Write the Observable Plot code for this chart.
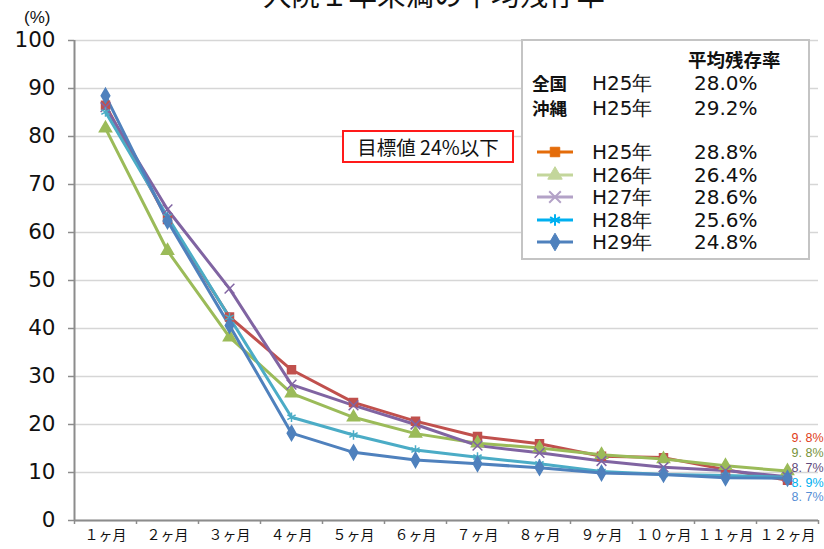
<!DOCTYPE html>
<html><head><meta charset="utf-8">
<script src="https://cdn.jsdelivr.net/npm/d3@7"></script>
<script src="https://cdn.jsdelivr.net/npm/@observablehq/plot@0.6"></script>
<style>
body{margin:0;background:#fff;}
#wrap{position:relative;width:824px;height:549px;overflow:hidden;font-family:"Noto Sans CJK JP",sans-serif;}
#wrap svg.chart{position:absolute;left:0;top:0;}
.title{position:absolute;left:0;width:868px;text-align:center;top:-20px;font-size:28.5px;line-height:28px;color:#111;white-space:nowrap;}
.unit{position:absolute;left:24px;top:8px;font-family:"Liberation Sans",sans-serif;font-size:17px;color:#111;}
.target{position:absolute;left:342px;top:130px;width:168px;height:29px;border:2px solid #ff1a1a;background:#fff;font-size:19.5px;line-height:29px;text-align:center;color:#111;white-space:nowrap;}
.legend{position:absolute;left:521px;top:39px;width:285px;height:217px;border:2px solid #c4c4c4;background:#fff;}
.legend .t{position:absolute;white-space:nowrap;color:#111;}
.legend .num{font-family:"DejaVu Sans",sans-serif;font-size:20px;line-height:22px;}
.legend .jp{font-size:17.5px;line-height:22px;font-weight:bold;}
</style></head><body><div id="wrap"></div>
<script>
const months = ["１ヶ月","２ヶ月","３ヶ月","４ヶ月","５ヶ月","６ヶ月","７ヶ月","８ヶ月","９ヶ月","１０ヶ月","１１ヶ月","１２ヶ月"];
const seriesNames = ["H25年","H26年","H27年","H28年","H29年"];
const h25 = [86.5, 62.7, 42.4, 31.4, 24.6, 20.7, 17.5, 16.0, 13.4, 13.1, 10.6, 8.4];
const h26 = [81.7, 56.2, 38.2, 26.5, 21.5, 18.1, 16.1, 15.1, 13.7, 12.8, 11.4, 10.3];
const h27 = [86.1, 64.8, 48.3, 28.3, 24.0, 20.0, 15.6, 14.1, 12.4, 11.1, 10.4, 9.1];
const h28 = [85.1, 63.3, 42.3, 21.5, 17.8, 14.7, 13.2, 11.8, 10.2, 9.6, 9.4, 9.0];
const h29 = [88.5, 62.4, 40.6, 18.2, 14.2, 12.6, 11.8, 11.0, 9.9, 9.6, 8.9, 8.8];
const avgRates = ["28.8%","26.4%","28.6%","25.6%","24.8%"];
const refLabels = ["全国","沖縄"];
const refYears = ["H25年","H25年"];
const refRates = ["28.0%","29.2%"];
const endLabels = ["9. 8%","9. 8%","8. 7%","8. 9%","8. 7%"];
const yTicks = [0,10,20,30,40,50,60,70,80,90,100];
const titleText = "入院１年未満の平均残存率";
const targetText = "目標値 24%以下";
const legendHeader = "平均残存率";

const lineColors = ["#C0504D","#9BBB59","#8064A2","#4BACC6","#4F81BD"];
const legendColors = ["#E46C0A","#C3D69B","#B3A2C7","#00B0F0","#4F81BD"];
const endColors = ["#E0401A","#77933C","#604A7B","#00B0F0","#558ED5"];
const symbols = ["square","triangle","times","asterisk","diamond"];
const d3symbols = [d3.symbolSquare,d3.symbolTriangle,d3.symbolTimes,d3.symbolAsterisk,d3.symbolDiamond];

const values = [h25,h26,h27,h28,h29];
const data = seriesNames.flatMap((s, si) => values[si].map((v, i) => ({series: s, m: i + 1, v})));
const monthPos = months.map((_, i) => i + 1);
const bounds = [0.5, ...monthPos.map(p => p + 0.5)];

const chart = Plot.plot({
  width: 824, height: 549,
  marginLeft: 74, marginRight: 6, marginTop: 40, marginBottom: 29,
  x: {type: "linear", domain: [0.5, 12.5]},
  y: {domain: [0, 100]},
  color: {domain: seriesNames, range: lineColors},
  symbol: {domain: seriesNames, range: symbols},
  style: {fontFamily: "DejaVu Sans", background: "transparent", overflow: "visible"},
  marks: [
    Plot.gridY(yTicks, {stroke: "#d6d6d6", strokeOpacity: 1, strokeWidth: 1.5}),
    Plot.axisY(yTicks, {tickSize: 6, tickPadding: 13, fontSize: 21.5, stroke: "#8c8c8c", fill: "#111", strokeWidth: 1.5, label: null}),
    Plot.ruleX(bounds, {y1: 0, y2: 0, insetBottom: -4, stroke: "#8c8c8c", strokeWidth: 1.5}),
    Plot.axisX(monthPos, {tickSize: 0, tickPadding: 10, fontSize: 14, fontFamily: "Noto Sans CJK JP", fill: "#111", tickFormat: p => months[p - 1], label: null}),
    Plot.ruleX([0.5], {stroke: "#8c8c8c", strokeWidth: 2}),
    Plot.ruleY([0], {stroke: "#8c8c8c", strokeWidth: 2}),
    Plot.line(data, {x: "m", y: "v", z: "series", stroke: "series", strokeWidth: 3}),
    Plot.dot(data, {x: "m", y: "v", symbol: "series", fill: "series", stroke: "series", strokeWidth: 1.5, r: 4.5}),
    ...endLabels.map((t, i) => Plot.text([t], {x: 12.5, y: 11, dx: 5, dy: (i - 2) * 14.8, textAnchor: "end", fill: endColors[i], fontSize: 12.5, fontFamily: "Liberation Sans"}))
  ]
});
chart.classList.add("chart");
const wrap = document.getElementById("wrap");
wrap.appendChild(chart);

const add = (parent, cls, text, css) => { const d = document.createElement("div"); d.className = cls; d.textContent = text; Object.assign(d.style, css || {}); parent.appendChild(d); return d; };
add(wrap, "title", titleText);
add(wrap, "unit", "(%)");
add(wrap, "target", targetText);

const lg = document.createElement("div"); lg.className = "legend"; wrap.appendChild(lg);
const ox = 521, oy = 39;
add(lg, "t jp", legendHeader, {left: (686 - ox) + "px", top: (46 - oy) + "px", fontSize: "18.5px"});
refLabels.forEach((l, i) => {
  const cy = [80.5, 105.5][i];
  add(lg, "t jp", l, {left: (530 - ox) + "px", top: (cy - 11 - oy) + "px"});
  add(lg, "t num", refYears[i], {left: (590 - ox) + "px", top: (cy - 11 - oy) + "px"});
  add(lg, "t num", refRates[i], {left: (692 - ox) + "px", top: (cy - 11 - oy) + "px"});
});
seriesNames.forEach((s, i) => {
  const cy = 150 + i * 22.5;
  const svg = d3.select(lg).append("svg").attr("width", 40).attr("height", 20)
    .style("position", "absolute").style("left", (533 - ox) + "px").style("top", (cy - 10 - oy) + "px");
  svg.append("line").attr("x1", 2).attr("x2", 38).attr("y1", 10).attr("y2", 10).attr("stroke", legendColors[i]).attr("stroke-width", 3);
  const filled = i !== 2 && i !== 3;
  svg.append("path").attr("transform", "translate(20,10)")
    .attr("d", d3.symbol(d3symbols[i], 90)())
    .attr("fill", filled ? legendColors[i] : "none").attr("stroke", legendColors[i]).attr("stroke-width", filled ? 1 : 2);
  add(lg, "t num", s, {left: (590 - ox) + "px", top: (cy - 11 - oy) + "px"});
  add(lg, "t num", avgRates[i], {left: (692 - ox) + "px", top: (cy - 11 - oy) + "px"});
});
</script></body></html>
